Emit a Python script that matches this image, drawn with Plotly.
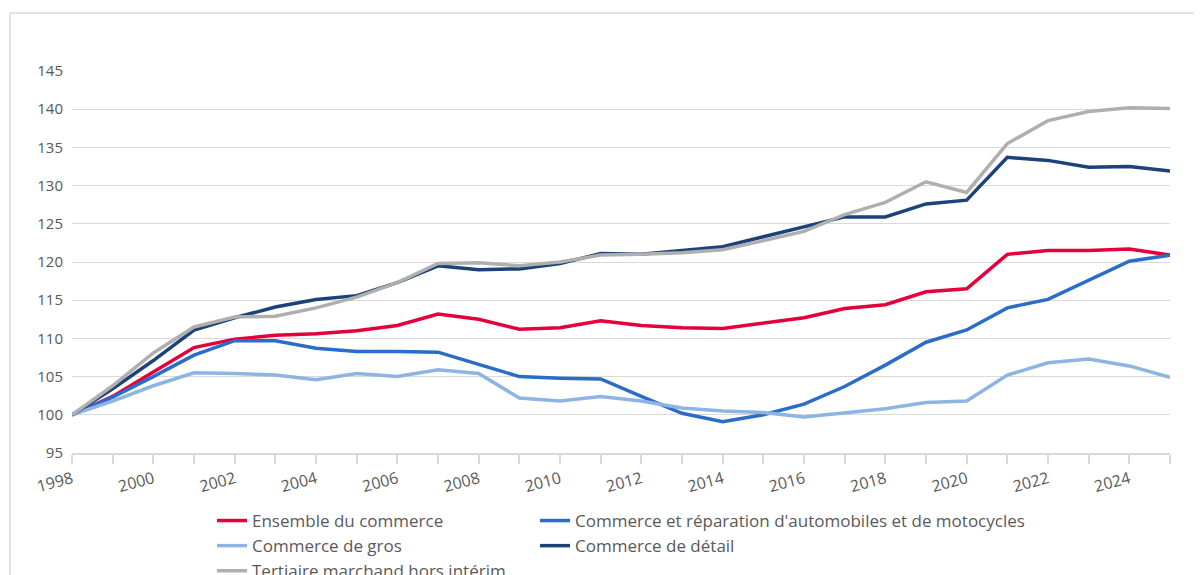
import plotly.graph_objects as go

years = list(range(1998, 2026))
tick_years = list(range(1998, 2025, 2))
tick_labels = [str(y) for y in tick_years]
y_ticks = list(range(95, 146, 5))

ensemble = [100, 102.4, 105.6, 108.8, 109.9, 110.4, 110.6, 111.0, 111.7, 113.2, 112.5, 111.2, 111.4, 112.3,
            111.7, 111.4, 111.3, 112.0, 112.7, 113.9, 114.4, 116.1, 116.5, 121.0, 121.5, 121.5, 121.7, 120.9]
auto = [100, 102.3, 105.0, 107.8, 109.7, 109.7, 108.7, 108.3, 108.3, 108.2, 106.6, 105.0, 104.8, 104.7,
        102.4, 100.2, 99.1, 100.0, 101.4, 103.7, 106.5, 109.5, 111.1, 114.0, 115.1, 117.6, 120.1, 120.9]
gros = [100, 101.8, 103.8, 105.5, 105.4, 105.2, 104.6, 105.4, 105.0, 105.9, 105.4, 102.2, 101.8, 102.4,
        101.8, 100.9, 100.5, 100.3, 99.7, 100.2, 100.8, 101.6, 101.8, 105.2, 106.8, 107.3, 106.4, 104.9]
detail = [100, 103.4, 107.1, 111.1, 112.7, 114.1, 115.1, 115.6, 117.3, 119.5, 119.0, 119.1, 119.8, 121.1,
          121.0, 121.5, 122.0, 123.3, 124.6, 125.9, 125.9, 127.6, 128.1, 133.7, 133.3, 132.4, 132.5, 131.9]
tertiaire = [100, 103.8, 108.1, 111.5, 112.8, 112.9, 114.0, 115.4, 117.3, 119.8, 119.9, 119.5, 120.0, 120.9,
             121.0, 121.2, 121.6, 122.8, 124.0, 126.2, 127.8, 130.5, 129.1, 135.5, 138.5, 139.7, 140.2, 140.1]

series = [
    ("Ensemble du commerce", ensemble, "#E4003B", "legend"),
    ("Commerce et réparation d'automobiles et de motocycles", auto, "#2B6CC8", "legend2"),
    ("Commerce de gros", gros, "#8EB4E3", "legend"),
    ("Commerce de détail", detail, "#1B4279", "legend2"),
    ("Tertiaire marchand hors intérim", tertiaire, "#AFAFAF", "legend"),
]

FONT = "Open Sans"
TXT = "#595959"
GRID = "#D9D9D9"

fig = go.Figure()
for name, vals, color, leg in series:
    fig.add_trace(go.Scatter(x=years, y=vals, name=name, mode="lines",
                             line=dict(color=color, width=3.5), legend=leg))

# page has an 8px body margin: figure coordinates = page coordinates - 8
OFF = 8
W, H = 1202, 575
L, R, T, B = 72 - OFF, 40, 71 - OFF, 130
pw, ph = W - L - R, H - T - B

def px_x(x):
    return (x - OFF - L) / pw

def px_y(y):
    return (H - B - (y - OFF)) / ph

legend_common = dict(orientation="v", xanchor="left", yanchor="top",
                     font=dict(family=FONT, size=17, color=TXT),
                     bgcolor="rgba(0,0,0,0)", borderwidth=0, tracegroupgap=0,
                     itemclick=False)

fig.update_layout(
    width=W, height=H,
    margin=dict(l=L, r=R, t=T, b=B, autoexpand=False),
    paper_bgcolor="white", plot_bgcolor="white",
    font=dict(family=FONT, size=15, color=TXT),
    showlegend=True,
    legend=dict(x=px_x(212), y=px_y(503), **legend_common),
    legend2=dict(x=px_x(535), y=px_y(503), **legend_common),
    xaxis=dict(range=[1998, 2025], tickvals=tick_years, ticktext=tick_labels,
               tickangle=-15, showgrid=False, zeroline=False,
               showline=True, linecolor=GRID, linewidth=1.5,
               ticks="outside", ticklen=9, tickwidth=1.5, tickcolor=GRID,
               minor=dict(dtick=1, tick0=1998, ticks="outside", ticklen=9, tickwidth=1.5, tickcolor=GRID),
               tickfont=dict(family=FONT, size=16, color=TXT)),
    yaxis=dict(range=[95, 145], tickvals=y_ticks, showgrid=True, gridcolor=GRID, gridwidth=1.2,
               zeroline=False, showline=False, ticks="", ticklabelstandoff=8,
               tickfont=dict(family=FONT, size=15, color=TXT)),
    shapes=[
        dict(type="line", xref="paper", yref="paper", x0=px_x(10), x1=px_x(1215), y0=px_y(13), y1=px_y(13),
             line=dict(color=GRID, width=1.5)),
        dict(type="line", xref="paper", yref="paper", x0=px_x(10), x1=px_x(10), y0=px_y(13), y1=px_y(600),
             line=dict(color=GRID, width=1.5)),
    ],
)

fig.write_html("out.html")
